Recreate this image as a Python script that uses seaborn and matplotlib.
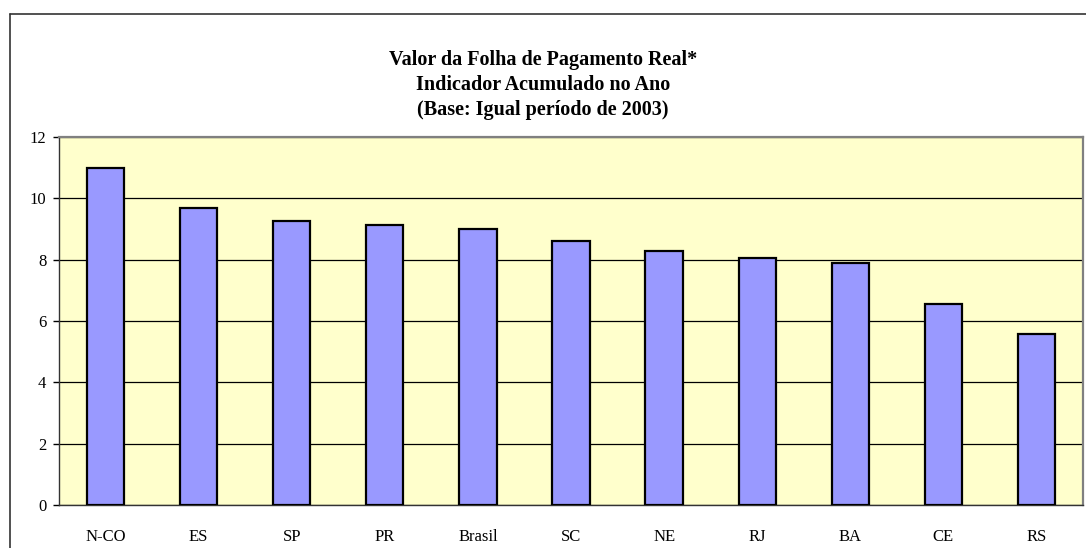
import matplotlib
matplotlib.use("Agg")
import matplotlib.pyplot as plt
import seaborn as sns
import pandas as pd
from matplotlib.lines import Line2D

categories = ["N-CO", "ES", "SP", "PR", "Brasil", "SC", "NE", "RJ", "BA", "CE", "RS"]
values = [11.0, 9.67, 9.26, 9.12, 9.01, 8.61, 8.28, 8.06, 7.90, 6.56, 5.59]
yticks = [0, 2, 4, 6, 8, 10, 12]
title_lines = ["Valor da Folha de Pagamento Real*",
               "Indicador Acumulado no Ano",
               "(Base: Igual período de 2003)"]

df = pd.DataFrame({"cat": categories, "val": values})

sns.set_theme(style="white")
plt.rcParams['font.family'] = ['Liberation Serif', 'DejaVu Serif']
plt.rcParams['text.color'] = 'black'
plt.rcParams['xtick.color'] = 'black'
plt.rcParams['ytick.color'] = 'black'

W, H = 1086, 548
fig = plt.figure(figsize=(W / 100, H / 100), dpi=100)
ax = fig.add_axes([59 / W, 1 - 505 / H, (1083 - 59) / W, (505 - 137) / H])
ax.set_facecolor("#FFFFCC")

sns.barplot(data=df, x="cat", y="val", color="#9999FF", width=0.4,
            edgecolor="black", linewidth=1.6, saturation=1, ax=ax, zorder=3)

ax.set_ylim(0, 12)
ax.set_xlim(-0.5, len(categories) - 0.5)
ax.set_yticks(yticks)
ax.set_yticklabels([str(v) for v in yticks], fontsize=12)
ax.yaxis.grid(True, color="black", linewidth=0.9, zorder=1)
ax.set_axisbelow(True)
ax.set_xlabel("")
ax.set_ylabel("")

# category ticks between bars
ax.set_xticks([i - 0.5 for i in range(len(categories) + 1)], minor=False)
ax.set_xticklabels([])
ax.set_xticks(range(len(categories)), minor=True)
ax.set_xticklabels(categories, minor=True, fontsize=12)
ax.tick_params(axis="x", which="major", direction="out", length=5, width=1, color="black")
ax.tick_params(axis="x", which="minor", length=0, pad=17)
ax.tick_params(axis="y", direction="out", length=4, width=1, color="black", pad=5, left=True)

for side in ["left", "bottom"]:
    ax.spines[side].set_color("#333333")
    ax.spines[side].set_linewidth(1.0)
    ax.spines[side].set_visible(True)
for side in ["top", "right"]:
    ax.spines[side].set_color("#808080")
    ax.spines[side].set_linewidth(1.6)
    ax.spines[side].set_visible(True)

# title
ys = [60, 85, 110]
for line, y in zip(title_lines, ys):
    fig.text(543 / W, 1 - y / H, line, ha="center", va="center",
             fontsize=14.5, fontweight="bold", color="black")

# outer chart border (left and top visible)
fig.add_artist(Line2D([10 / W, 10 / W], [1 - 14 / H, -0.05], transform=fig.transFigure,
                      color="#333333", linewidth=1.2))
fig.add_artist(Line2D([10 / W, 1.05], [1 - 14 / H, 1 - 14 / H], transform=fig.transFigure,
                      color="#333333", linewidth=1.2))

fig.savefig("out.png", dpi=100, facecolor="white")
